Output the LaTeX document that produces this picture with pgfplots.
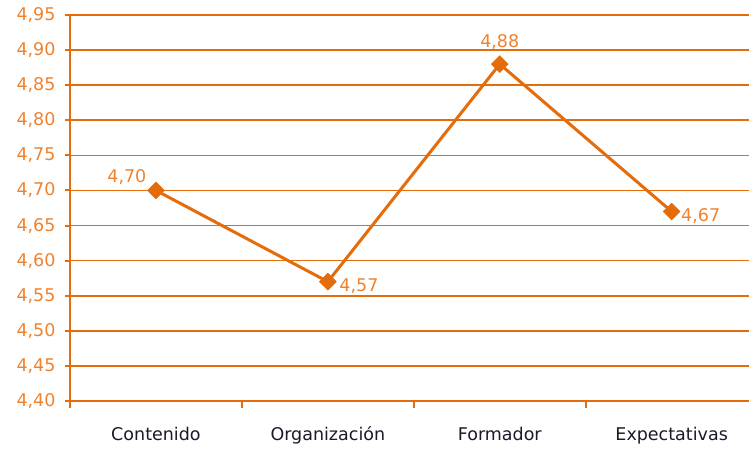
\documentclass[border=0pt]{standalone}
\usepackage{pgfplots}
\usepackage{fontspec}
\setmainfont{DejaVu Sans}
\pgfplotsset{compat=1.18}
\definecolor{lineor}{HTML}{E46C0A}
\definecolor{textor}{HTML}{F0822E}
\definecolor{labblk}{HTML}{1A1A2A}
\begin{document}
\begin{tikzpicture}
\begin{axis}[
  at={(70pt,48pt)}, anchor=south west,
  scale only axis,
  width=679pt, height=386pt,
  xmin=-0.5, xmax=3.45,
  ymin=4.40, ymax=4.95,
  ytick={4.40,4.45,...,4.96},
  xtick={0,1,2,3},
  xticklabels={Contenido,Organización,Formador,Expectativas},
  x tick label style={font=\fontsize{17.5}{20}\selectfont, text=labblk, anchor=base, yshift=-35pt},
  y tick label style={font=\fontsize{17.5}{20}\selectfont, text=textor, xshift=-6pt},
  /pgf/number format/.cd, fixed, fixed zerofill, precision=2, use comma, assume math mode=true,
  /pgfplots/.cd,
  axis x line*=bottom, axis y line*=left,
  axis line style={lineor, line width=2.5pt, -},
  ymajorgrids=true,
  grid style={lineor, line width=1.6pt},
  tick align=outside,
  major tick length=5pt,
  tick style={lineor, line width=2pt},
  xtick style={draw=none},
  extra x ticks={-0.5,0.5,1.5,2.5},
  extra x tick labels={},
  extra x tick style={grid=none, major tick length=7pt, xtick style={draw=lineor, line width=2pt}},
  clip=false,
  nodes near coords,
  nodes near coords style={font=\fontsize{17.5}{20}\selectfont, text=textor,
    /pgf/number format/.cd, fixed, fixed zerofill, precision=2, use comma, assume math mode=true},
]
\addplot[lineor, line width=3pt, mark=square*, mark size=6pt,
  mark options={fill=lineor, draw=lineor, line width=0.5pt, rotate=45},
  coordinate style/.condition={\coordindex==0}{anchor=south east, xshift=-6pt, yshift=2pt},
  coordinate style/.condition={\coordindex==1}{anchor=west, xshift=8pt, yshift=-4pt},
  coordinate style/.condition={\coordindex==2}{anchor=south, yshift=11pt},
  coordinate style/.condition={\coordindex==3}{anchor=west, xshift=6pt, yshift=-5pt},
] coordinates {
  (0,4.70) (1,4.57) (2,4.88) (3,4.67)
};
\end{axis}
\pgfresetboundingbox
\path (0,0) rectangle (749pt,449pt);
\end{tikzpicture}
\end{document}
